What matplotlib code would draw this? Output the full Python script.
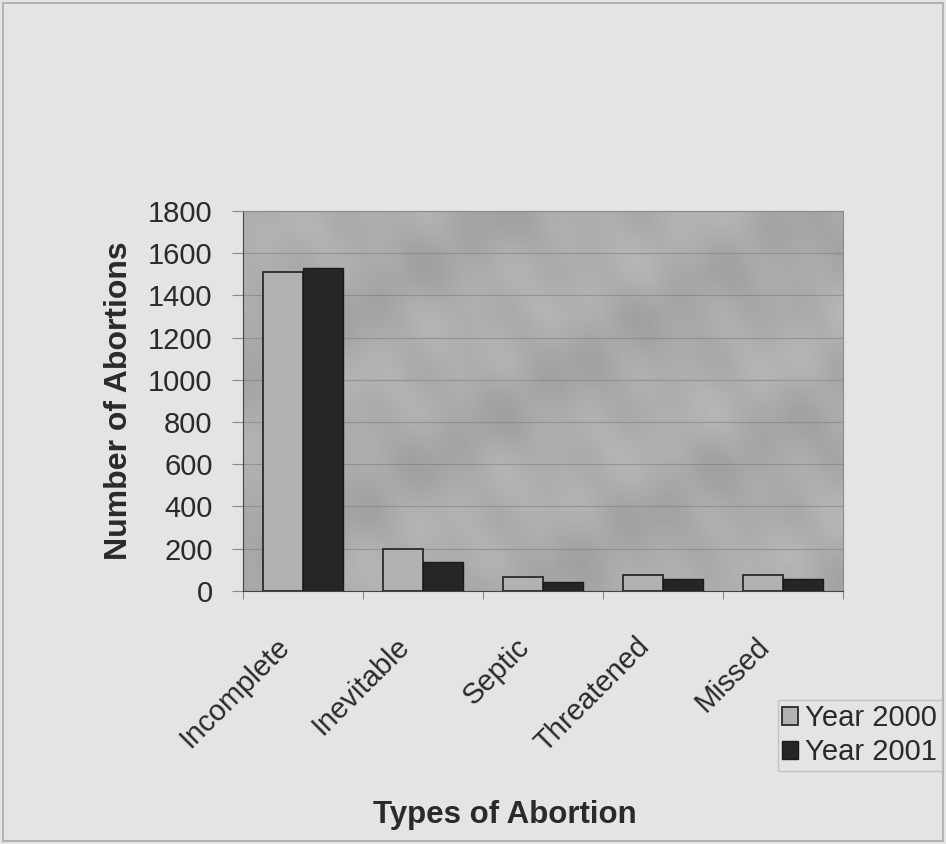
import matplotlib.pyplot as plt
import matplotlib.transforms as mtransforms
import numpy as np

plt.rcParams['font.family'] = ['Liberation Sans', 'DejaVu Sans']

tipos = ['Incomplete', 'Inevitable', 'Septic', 'Threatened', 'Missed']
ano_2000 = [1512, 200, 65, 74, 74]
ano_2001 = [1532, 138, 42, 54, 54]
ticks_y = list(range(0, 2000, 200))

cor_texto = '#2a2a2a'
tam = 21

fig = plt.figure(figsize=(9.46, 8.44), dpi=100, facecolor='#e4e4e4')
ax = fig.add_axes([0.257, 0.30, 0.634, 0.45])

# fundo "granito" tipo Excel: manchas suaves em blocos
yy, xx = np.mgrid[0:30, 0:48]
textura = (np.sin(xx * 0.55) * np.cos(yy * 0.8) + np.sin(xx * 0.23 + yy * 0.41)
           + 0.5 * np.cos(xx * 1.3 - yy * 0.7))
cinza = 0.67 + 0.02 * textura
ax.imshow(cinza, extent=(-0.5, 4.5, 0, 1800), aspect='auto', cmap='gray',
          vmin=0, vmax=1, zorder=0, interpolation='bilinear')

x = np.arange(len(tipos))
largura = 1 / 3
ax.bar(x - largura / 2, ano_2000, largura, color='#b2b2b2', edgecolor='#2a2a2a',
       linewidth=1.3, label='Year 2000', zorder=3)
ax.bar(x + largura / 2, ano_2001, largura, color='#262626', edgecolor='#1a1a1a',
       linewidth=1.0, label='Year 2001', zorder=3)

ax.set_xlim(-0.5, 4.5)
ax.set_ylim(0, 1800)
ax.set_yticks(ticks_y)
ax.yaxis.grid(True, color='#777777', linewidth=0.8, alpha=0.5, zorder=1)

ax.set_xticks(np.arange(-0.5, 5, 1))
ax.set_xticklabels([])
ax.set_xticks(x, minor=True)
ax.set_xticklabels(tipos, minor=True, rotation=45, ha='right', va='top',
                   fontsize=tam, color=cor_texto)
ax.tick_params(axis='x', which='minor', length=0, pad=30)
ax.tick_params(axis='x', which='major', length=6, color='#888888')
ax.tick_params(axis='y', length=8, color='#888888', labelsize=tam,
               labelcolor=cor_texto, pad=14)
desloca = mtransforms.ScaledTranslation(-8 / 100, 0, fig.dpi_scale_trans)
for lbl in ax.get_xticklabels(minor=True):
    lbl.set_transform(lbl.get_transform() + desloca)

for lado in ['top', 'right']:
    ax.spines[lado].set_color('#8a8a8a')
for lado in ['left', 'bottom']:
    ax.spines[lado].set_color('#444444')

ax.set_ylabel('Number of Abortions', fontsize=23, fontweight='bold',
              color=cor_texto, labelpad=10)
fig.text(0.534, 0.017, 'Types of Abortion', fontsize=22.5, fontweight='bold',
         color=cor_texto, ha='center', va='bottom')

leg = fig.legend(loc='lower left', bbox_to_anchor=(0.822, 0.087), fontsize=tam,
                 frameon=True, fancybox=False, edgecolor='#bbbbbb',
                 facecolor='#e4e4e4', handlelength=0.55, handleheight=0.55,
                 handletextpad=0.25, borderpad=0.15, labelspacing=0.2,
                 borderaxespad=0)
for t in leg.get_texts():
    t.set_color(cor_texto)

fig.patches.append(plt.Rectangle((0.003, 0.003), 0.994, 0.994, transform=fig.transFigure,
                                 fill=False, edgecolor='#aaaaaa', linewidth=1.2))

fig.savefig('out.png', dpi=100, facecolor=fig.get_facecolor())
